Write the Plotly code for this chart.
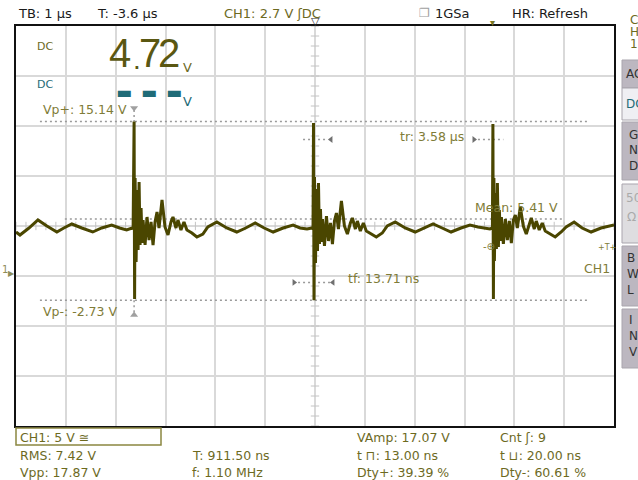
import plotly.graph_objects as go

# ---------------- data ----------------
time_us = [
    -6.00, -5.92, -5.74, -5.56, -5.38, -5.18, -5.04, -4.88, -4.68, -4.46, -4.28, -4.08, -3.92, -3.78, -3.67,
    -3.65, -3.63, -3.62, -3.61, -3.59, -3.57, -3.55, -3.53, -3.51, -3.49, -3.47, -3.45, -3.41, -3.37, -3.33,
    -3.29, -3.25, -3.21, -3.17, -3.13, -3.07, -3.01, -2.95, -2.89, -2.85, -2.79, -2.75, -2.69, -2.63, -2.57,
    -2.47, -2.37, -2.25, -2.15,
    -1.97, -1.77, -1.57, -1.39, -1.20, -1.02, -0.84, -0.64, -0.44, -0.30, -0.16, -0.06,
    -0.04, -0.03, -0.02, -0.01, 0.01, 0.03, 0.05, 0.07, 0.09, 0.11, 0.13, 0.15, 0.19, 0.23, 0.27, 0.31,
    0.35, 0.39, 0.43, 0.47, 0.53, 0.59, 0.65, 0.71, 0.75, 0.81, 0.85, 0.91, 0.97, 1.03, 1.13, 1.23,
    1.35, 1.45, 1.61, 1.81, 2.01, 2.19, 2.37, 2.55, 2.73, 2.93, 3.11, 3.27, 3.41, 3.51,
    3.56, 3.57, 3.58, 3.59, 3.60, 3.62, 3.64, 3.66, 3.68, 3.70, 3.72, 3.74, 3.78, 3.82, 3.86, 3.90,
    3.94, 3.98, 4.02, 4.06, 4.12, 4.18, 4.24, 4.30, 4.34, 4.40, 4.44, 4.50, 4.56, 4.62, 4.72, 4.82,
    4.94, 5.04, 5.20, 5.36, 5.54, 5.74, 6.00,
]
ch1_volts = [
    4.1, 3.8, 4.5, 5.3, 4.7, 4.1, 4.5, 4.9, 4.5, 4.1, 4.5, 4.8, 4.5, 4.3, 4.5,
    4.4, 15.14, -2.6, 9.5, 1.1, 8.3, 2.3, 9.1, 2.8, 6.5, 3.0, 5.3, 2.8, 5.6, 3.3,
    5.1, 2.8, 5.1, 6.1, 4.5, 7.3, 4.6, 3.8, 5.1, 5.6, 4.5, 5.3, 4.3, 5.1, 4.3,
    4.0, 3.6, 3.9, 4.6,
    5.1, 4.5, 4.1, 4.5, 5.0, 4.5, 4.1, 4.5, 4.8, 4.5, 4.4, 4.5,
    4.4, 15.0, -2.73, 9.6, 1.0, 8.4, 2.2, 9.0, 2.9, 6.4, 3.1, 5.4, 2.7, 5.7, 3.2, 5.0,
    2.9, 5.2, 6.0, 4.4, 7.2, 4.7, 3.9, 5.0, 5.5, 4.4, 5.2, 4.2, 5.0, 4.2, 3.9, 3.6,
    4.0, 4.7, 5.1, 4.5, 4.1, 4.5, 4.9, 4.5, 4.1, 4.5, 4.8, 4.6, 4.5, 4.4,
    4.5, 14.9, -2.6, 9.5, 1.2, 8.0, 2.4, 9.0, 2.6, 6.3, 3.2, 5.6, 2.9, 5.4, 3.3, 5.2,
    3.0, 5.3, 5.8, 4.5, 6.6, 4.7, 3.9, 5.0, 5.5, 4.4, 5.2, 4.3, 5.0, 4.2, 3.9, 3.6,
    4.1, 4.6, 5.1, 4.5, 4.1, 4.5, 4.8,
]

vp_plus_v = 15.14
vp_minus_v = -2.73
mean_v = 5.41
trigger_level_v = 2.7
tr_level_v = 13.35
tf_level_v = -0.94
vp_spike_time_us = -3.63
trigger_time_us = 3.57

readout_digits = ["4", ".", "7", "2"]
measure_row1 = ["VAmp: 17.07 V", "Cnt ʃ: 9"]
measure_row2 = ["RMS: 7.42 V", "T: 911.50 ns", "t ⊓: 13.00 ns", "t ⊔: 20.00 ns"]
measure_row3 = ["Vpp: 17.87 V", "f: 1.10 MHz", "Dty+: 39.39 %", "Dty-: 60.61 %"]

# ---------------- styling / layout ----------------
W, H = 638, 480
L, R, T, B = 16, 614, 26, 426
TRACE = "#4a4600"
OLIVE = "#6d6a1f"
LABEL = "#7f7c38"
TEAL = "#1f6b77"
DARK = "#1a1a1a"
GREY = "#9a9a9a"
FONT = "DejaVu Sans"


def px(X):
    return (X - L) / (R - L)


def py(Y):
    return (B - Y) / (B - T)


def txt(s, X, Y, color, size=12.5, anchor="left", family=FONT, xref="paper", yref="paper"):
    return dict(text=s, x=px(X) if xref == "paper" else X, y=py(Y) if yref == "paper" else Y,
                xref=xref, yref=yref, xanchor=anchor, yanchor="middle", showarrow=False,
                font=dict(family=family, size=size, color=color))


fig = go.Figure()

# centre-line minor ticks
vt = [-15.3 + i for i in range(41)]
fig.add_trace(go.Scatter(x=[0] * len(vt), y=vt, mode="markers", hoverinfo="skip",
                         marker=dict(symbol="line-ew", size=6, line=dict(width=1, color="#c4c4c4"))))
ht = [-6 + 0.2 * i for i in range(61)]
fig.add_trace(go.Scatter(x=ht, y=[4.7] * len(ht), mode="markers", hoverinfo="skip",
                         marker=dict(symbol="line-ns", size=6, line=dict(width=1, color="#c4c4c4"))))

# measurement cursor lines
dot = dict(color=GREY, width=1.5, dash="2px,3px")
fig.add_trace(go.Scatter(x=[-5.52, 5.48], y=[vp_plus_v, vp_plus_v], mode="lines", line=dot, hoverinfo="skip"))
fig.add_trace(go.Scatter(x=[-5.52, 5.48], y=[vp_minus_v, vp_minus_v], mode="lines", line=dot, hoverinfo="skip"))
fig.add_trace(go.Scatter(x=[-5.02, 4.98], y=[mean_v, mean_v], mode="lines", line=dot, hoverinfo="skip"))
fig.add_trace(go.Scatter(x=[vp_spike_time_us, vp_spike_time_us], y=[16.3, vp_plus_v], mode="lines", line=dot, hoverinfo="skip"))
fig.add_trace(go.Scatter(x=[vp_spike_time_us, vp_spike_time_us], y=[vp_minus_v, -4.0], mode="lines", line=dot, hoverinfo="skip"))
fig.add_trace(go.Scatter(x=[-0.24, 0.22], y=[tr_level_v, tr_level_v], mode="lines", line=dot, hoverinfo="skip"))
fig.add_trace(go.Scatter(x=[3.27, 3.78], y=[tr_level_v, tr_level_v], mode="lines", line=dot, hoverinfo="skip"))
fig.add_trace(go.Scatter(x=[-0.34, 0.30], y=[tf_level_v, tf_level_v], mode="lines", line=dot, hoverinfo="skip"))

# waveform
fig.add_trace(go.Scatter(x=time_us, y=ch1_volts, mode="lines", hoverinfo="skip",
                         line=dict(color=TRACE, width=3)))

# cursor arrows / markers
fig.add_trace(go.Scatter(x=[0.32, -0.42], y=[tr_level_v, tf_level_v], mode="markers", hoverinfo="skip",
                         marker=dict(symbol=["triangle-left", "triangle-right"], size=6, color="#707070")))
fig.add_trace(go.Scatter(x=[3.19, 0.36], y=[tr_level_v, tf_level_v], mode="markers", hoverinfo="skip",
                         marker=dict(symbol=["triangle-right", "triangle-left"], size=6, color="#707070")))
fig.add_trace(go.Scatter(x=[vp_spike_time_us, vp_spike_time_us], y=[16.5, -4.2], mode="markers", hoverinfo="skip",
                         marker=dict(symbol=["triangle-down", "triangle-up"], size=7, color="#a0a0a0")))

ann = []
# header
ann.append(txt("TB: 1 µs", 16, 13, DARK, 13))
ann.append(txt("T: -3.6 µs", 95, 13, DARK, 13))
ann.append(txt("CH1: 2.7 V ʃDC", 222, 13, OLIVE, 13))
ann.append(txt("❐", 417, 13, "#a0a0a0", 12))
ann.append(txt("1GSa", 433, 13, DARK, 13))
ann.append(txt("HR: Refresh", 510, 13, DARK, 13))
ann.append(txt("▽", 0, 21, "#333333", 11, "center", xref="x"))
ann.append(dict(text="▾", x=trigger_time_us, y=py(23), xref="x", yref="paper", showarrow=False,
                xanchor="center", yanchor="middle", font=dict(size=10, color="#7a7620", family=FONT)))

# big DC readout
ann.append(txt("DC", 35, 46, OLIVE, 11))
ann.append(txt("DC", 35, 84, TEAL, 11))
for ch, X, Y, size in zip(readout_digits, [120, 137, 150, 169], [53, 60, 53, 53], [40, 28, 40, 40]):
    ann.append(txt(ch, X, Y, "#5a5712", size, "center", family="Liberation Sans"))
ann.append(txt("V", 188, 67, OLIVE, 13, "center"))
for X in [124, 149, 174]:
    ann.append(txt("▬", X, 92, TEAL, 17, "center"))
ann.append(txt("V", 188, 102, TEAL, 13, "center"))

# cursor labels
ann.append(txt("Vp+: 15.14 V", 41, 110, LABEL, 12.5))
ann.append(txt("Vp-: -2.73 V", 41, 311, LABEL, 12.5))
ann.append(txt("tr: 3.58 µs", 398, 136, LABEL, 12.5))
ann.append(txt("tf: 13.71 ns", 346, 278, LABEL, 12.5))
ann.append(txt("Mean: 5.41 V", 473, 207, LABEL, 12.5))
ann.append(txt("CH1", 582, 268, LABEL, 12.5))
ann.append(dict(text="-⊕", x=trigger_time_us - 0.08, y=trigger_level_v, xref="x", yref="y", showarrow=False,
                xanchor="center", yanchor="middle", font=dict(size=10, color=LABEL, family=FONT)))
ann.append(txt("+T+", 607, 247, LABEL, 8, "center"))
ann.append(txt("1", 5, 269, "#8e8c5a", 10, "center"))
ann.append(txt("▶", 11, 273, "#8e8c5a", 8, "center"))

# bottom measurement panel
ann.append(txt("CH1: 5 V ≅", 18, 437, OLIVE, 12.5))
ann.append(txt(measure_row1[0], 355, 437, OLIVE, 12.5))
ann.append(txt(measure_row1[1], 498, 437, OLIVE, 12.5))
for row, Y in [(measure_row2, 455), (measure_row3, 472)]:
    for s, X in zip(row, [18, 190, 355, 498]):
        ann.append(txt(s, X, Y, OLIVE, 12.5))

# right sidebar
for ch, Y in [("C", 20, ), ("H", 32), ("1", 44)]:
    ann.append(txt(ch, 628, Y, OLIVE, 12))

shapes = []
buttons = [(60, 88, "#bcb7c0"), (88, 120, "#efeff3"), (122, 180, "#bcb7c0"),
           (184, 243, "#dedde0"), (246, 306, "#bcb7c0"), (309, 368, "#bcb7c0")]
for y0, y1, col in buttons:
    shapes.append(dict(type="rect", xref="paper", yref="paper", x0=px(622), x1=px(642),
                       y0=py(y1), y1=py(y0), fillcolor=col, line=dict(color="#a9a5ad", width=1), layer="above"))
ann.append(txt("AC", 624, 74, "#333333", 12))
ann.append(txt("DC", 624, 104, TEAL, 12))
for ch, Y in [("G", 135), ("N", 150), ("D", 166)]:
    ann.append(txt(ch, 627, Y, "#333333", 12))
ann.append(txt("50", 624, 198, "#aaaaaa", 12))
ann.append(txt("Ω", 625, 217, "#aaaaaa", 12))
for ch, Y in [("B", 258), ("W", 274), ("L", 290)]:
    ann.append(txt(ch, 625, Y, "#333333", 12))
for ch, Y in [("I", 320), ("N", 336), ("V", 352)]:
    ann.append(txt(ch, 627, Y, "#333333", 12))

shapes.append(dict(type="rect", xref="paper", yref="paper", x0=px(16), x1=px(161), y0=py(445), y1=py(428),
                   line=dict(color="#8b8740", width=1.5), fillcolor="rgba(0,0,0,0)"))

axis_common = dict(showgrid=True, gridcolor="#d9d9d9", gridwidth=1.5, showticklabels=False, ticks="",
                   showline=True, linecolor="#111111", linewidth=1.5, mirror=True, zeroline=False,
                   fixedrange=True)
fig.update_layout(
    width=W, height=H, margin=dict(l=L, r=W - R, t=T, b=H - B),
    paper_bgcolor="white", plot_bgcolor="white", showlegend=False,
    xaxis=dict(range=[-6, 6], tick0=0, dtick=1, **axis_common),
    yaxis=dict(range=[-15.3, 24.7], tick0=-0.3, dtick=5, **axis_common),
    annotations=ann, shapes=shapes,
)

fig.write_html("out.html", config={"displayModeBar": False},
               post_script="document.body.style.margin='0px';document.body.style.overflow='hidden';")
